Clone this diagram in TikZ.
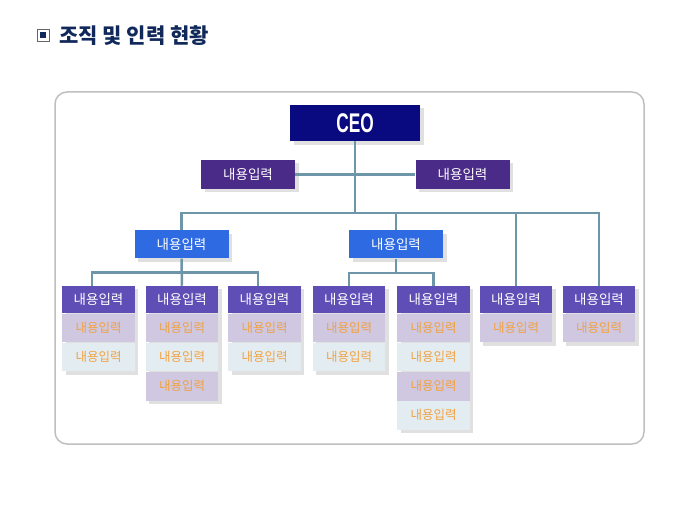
\documentclass[tikz,border=0pt]{standalone}
\usepackage{fontspec}
\setmainfont{Liberation Sans}
\newfontfamily\kr{Noto Sans CJK KR}
\usepackage{tikz}
\usetikzlibrary{positioning,shadows}
\usepackage{xcolor}

\definecolor{ceonavy}{HTML}{0A0A80}
\definecolor{staffpurple}{HTML}{4B2B88}
\definecolor{deptblue}{HTML}{2E6BE2}
\definecolor{teampurple}{HTML}{5E4EB6}
\definecolor{rowlav}{HTML}{D0C7E0}
\definecolor{rowice}{HTML}{E3EDF1}
\definecolor{rowtext}{HTML}{F0A244}
\definecolor{linkblue}{HTML}{6D97A9}
\definecolor{titlenavy}{HTML}{10295A}

\tikzset{
  unitbox/.style={inner sep=0pt, text=white, font=\kr\fontsize{13.5}{15}\selectfont,
    drop shadow={shadow xshift=3.5pt, shadow yshift=-3.5pt, fill=black!40, opacity=0.3}},
  staffbox/.style={unitbox, fill=staffpurple, minimum width=94pt, minimum height=29pt},
  deptbox/.style={unitbox, fill=deptblue, minimum width=94pt, minimum height=28.3pt},
  teamhead/.style={unitbox, fill=teampurple, minimum width=72.5pt, minimum height=27.3pt},
  rowa/.style={unitbox, fill=rowlav, minimum width=72.5pt, minimum height=28.7pt,
    text=rowtext, font=\kr\fontsize{12.5}{14}\selectfont},
  rowb/.style={rowa, fill=rowice},
  link/.style={draw=linkblue, line width=2.5pt}
}

\begin{document}
\begin{tikzpicture}[x=1pt,y=-1pt]
      \useasboundingbox (0,0) rectangle (680,510);

      % Title
      \draw[black!60, line width=0.8pt, fill=white] (37,29) rectangle (49,41);
      \fill[titlenavy] (40,32) rectangle (46,38);
      \node[anchor=west, inner sep=0pt, text=titlenavy, font=\kr\bfseries\fontsize{21}{23}\selectfont] (title) at (59,36) {조직 및 인력 현황};

      % Frame
      \draw[black!25, line width=1.5pt, rounded corners=12pt] (55,92) rectangle (644,444);

      % CEO and staff
      \node[unitbox, fill=ceonavy, minimum width=130pt, minimum height=36.5pt,
            font=\bfseries\fontsize{27}{29}\selectfont] (ceo) at (355,122.8) {\scalebox{0.64}[1]{CEO}};
      \node[staffbox] (staffl) at (248,174.5) {내용입력};
      \node[staffbox] (staffr) at (462.5,174.5) {내용입력};

      % Departments
      \node[deptbox] (dept1) at (181.5,244.2) {내용입력};
      \node[deptbox] (dept2) at (396,244.2) {내용입력};

      % Teams
      \node[teamhead] (team1) at (98.5,299.6) {내용입력};
      \node[rowa, below=0pt of team1] (team1a) {내용입력};
      \node[rowb, below=0pt of team1a] (team1b) {내용입력};

      \node[teamhead] (team2) at (182,299.6) {내용입력};
      \node[rowa, below=0pt of team2] (team2a) {내용입력};
      \node[rowb, below=0pt of team2a] (team2b) {내용입력};
      \node[rowa, below=0pt of team2b] (team2c) {내용입력};

      \node[teamhead] (team3) at (264.5,299.6) {내용입력};
      \node[rowa, below=0pt of team3] (team3a) {내용입력};
      \node[rowb, below=0pt of team3a] (team3b) {내용입력};

      \node[teamhead] (team4) at (349,299.6) {내용입력};
      \node[rowa, below=0pt of team4] (team4a) {내용입력};
      \node[rowb, below=0pt of team4a] (team4b) {내용입력};

      \node[teamhead] (team5) at (433.5,299.6) {내용입력};
      \node[rowa, below=0pt of team5] (team5a) {내용입력};
      \node[rowb, below=0pt of team5a] (team5b) {내용입력};
      \node[rowa, below=0pt of team5b] (team5c) {내용입력};
      \node[rowb, below=0pt of team5c] (team5d) {내용입력};

      \node[teamhead] (team6) at (516,299.6) {내용입력};
      \node[rowa, below=0pt of team6] (team6a) {내용입력};

      \node[teamhead] (team7) at (599,299.6) {내용입력};
      \node[rowa, below=0pt of team7] (team7a) {내용입력};

      % Connectors
      \coordinate (mainbus) at (355,213);
      \coordinate (bus1) at (181.5,272.5);
      \coordinate (bus2) at (396,273);
      \draw[link] (ceo.south) -- (mainbus);
      \draw[link] (staffl.east) -- (staffr.west);
      \draw[link] (dept1.north) |- (mainbus) -| (team7.north);
      \draw[link] (dept2.north) |- (mainbus);
      \draw[link] (team6.north) |- (mainbus);
      \draw[link] (dept1.south) -- (team2.north);
      \draw[link] ([xshift=-6.5pt]team1.north) |- (bus1) -| ([xshift=-6.5pt]team3.north);
      \draw[link] (dept2.south) -- (bus2);
      \draw[link] (team4.north) |- (bus2) -| (team5.north);
\end{tikzpicture}
\end{document}
